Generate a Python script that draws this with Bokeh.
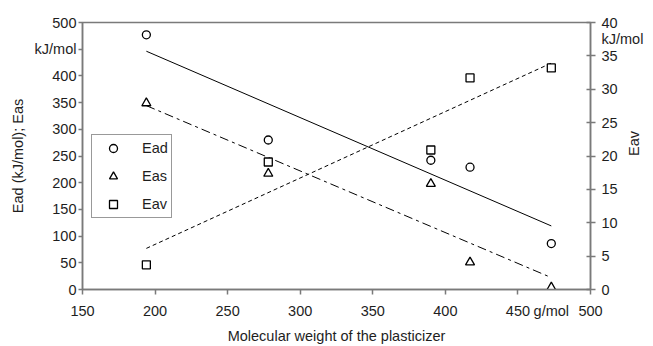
import math
import numpy as np
from bokeh.plotting import figure
from bokeh.models import (Range1d, LinearAxis, FixedTicker, Legend, LegendItem)
from bokeh.embed import file_html
from bokeh.resources import INLINE

# Data
mol_weight = [194, 278, 390, 417, 473]          # g/mol
ead = [477, 280, 242, 229, 86]                  # kJ/mol (left axis)
eas = [349, 217, 198, 51, 4]                    # kJ/mol (left axis)
eav = [3.7, 19.1, 20.9, 31.7, 33.2]             # kJ/mol (right axis)

x_ticks = [150, 200, 250, 300, 350, 400, 450, 500]
x_unit_pos = 473          # where the "g/mol" unit text sits
y_ticks = [0, 50, 100, 150, 200, 250, 300, 350, 400, 450, 500]
y2_ticks = [0, 5, 10, 15, 20, 25, 30, 35, 40]
y2_unit_pos = 37.5        # where the right "kJ/mol" unit text sits

FONT = "Liberation Sans"
FS = "14.5px"
TXT = "#1e1e1e"
AX = "#7a7a7a"

p = figure(width=653, height=346, output_backend="svg", toolbar_location=None,
           x_range=Range1d(150, 500), y_range=Range1d(0, 500),
           min_border_left=82, min_border_right=61, min_border_top=22, min_border_bottom=57)
p.extra_y_ranges = {"eav": Range1d(0, 40)}
p.xgrid.visible = False
p.ygrid.visible = False
p.outline_line_color = AX
p.outline_line_width = 1.5
p.background_fill_color = "white"
p.border_fill_color = "white"

# fitted trend lines
xs = np.array(mol_weight, dtype=float)
line_x = np.array([mol_weight[0], mol_weight[-1]], dtype=float)
def fit(y):
    k, b = np.polyfit(xs, np.array(y, dtype=float), 1)
    return k * line_x + b

p.line(line_x, fit(ead), line_color="black", line_width=1)
p.line(line_x, fit(eas), line_color="black", line_width=1, line_dash="9 4 3 4")
p.line(line_x, fit(eav), line_color="black", line_width=1, line_dash="4 3", y_range_name="eav")

r_ead = p.scatter(mol_weight, ead, marker="circle", size=8, fill_color="white",
                  line_color="black", line_width=1.3)
r_eas = p.scatter(mol_weight, eas, marker="triangle", size=9, fill_color="white",
                  line_color="black", line_width=1.3)
r_eav = p.scatter(mol_weight, eav, marker="square", size=8, fill_color="white",
                  line_color="black", line_width=1.3, y_range_name="eav")

def style_text(ax):
    ax.minor_tick_line_color = None
    ax.major_label_text_font = FONT
    ax.major_label_text_font_size = FS
    ax.major_label_text_color = TXT
    ax.axis_label_text_font = FONT
    ax.axis_label_text_font_size = FS
    ax.axis_label_text_font_style = "normal"
    ax.axis_label_text_color = TXT

def lines_only(ax, ticks, t_in, t_out):
    # axis line and tick marks, no labels
    ax.ticker = FixedTicker(ticks=ticks)
    ax.axis_line_color = AX
    ax.axis_line_width = 1.5
    ax.major_tick_line_color = AX
    ax.major_tick_line_width = 1.5
    ax.minor_tick_line_color = None
    ax.major_tick_in = t_in
    ax.major_tick_out = t_out
    ax.major_label_overrides = {t: "" for t in ticks}
    ax.major_label_text_font_size = "0px"
    ax.major_label_standoff = 0

def labels_only(ax, ticks, overrides, standoff):
    # tick labels without line or marks
    ax.ticker = FixedTicker(ticks=ticks)
    ax.axis_line_color = None
    ax.major_tick_line_color = None
    ax.major_tick_in = 0
    ax.major_tick_out = 0
    ax.major_label_overrides = overrides
    ax.major_label_standoff = standoff
    style_text(ax)

# bottom: line + marks, then labels (incl. unit) + title
xa = p.xaxis[0]
lines_only(xa, x_ticks, 0, 5)
xb = LinearAxis()
labels_only(xb, x_ticks + [x_unit_pos], {x_unit_pos: "g/mol"}, 8)
xb.axis_label = "Molecular weight of the plasticizer"
xb.axis_label_standoff = 6
p.add_layout(xb, "below")

# left axis
ya = p.yaxis[0]
style_text(ya)
ya.ticker = FixedTicker(ticks=y_ticks)
ya.major_label_overrides = {450: "kJ/mol"}
ya.axis_line_color = AX
ya.axis_line_width = 1.5
ya.major_tick_line_color = AX
ya.major_tick_line_width = 1.5
ya.major_tick_in = 0
ya.major_tick_out = 4
ya.major_label_standoff = 2
ya.axis_label = "Ead (kJ/mol); Eas"
ya.axis_label_standoff = 6

# right axis: line + marks, then labels (incl. unit) + title
ra = LinearAxis(y_range_name="eav")
lines_only(ra, y2_ticks, 4, 5)
p.add_layout(ra, "right")
rb = LinearAxis(y_range_name="eav")
labels_only(rb, y2_ticks + [y2_unit_pos], {y2_unit_pos: "kJ/mol"}, 6)
rb.axis_label = "Eav"
rb.axis_label_standoff = -12
rb.axis_label_orientation = math.pi / 2
p.add_layout(rb, "right")

legend = Legend(items=[LegendItem(label="Ead", renderers=[r_ead]),
                       LegendItem(label="Eas", renderers=[r_eas]),
                       LegendItem(label="Eav", renderers=[r_eav])],
                location=(9, 71), padding=3, spacing=8, glyph_width=36, glyph_height=20,
                label_height=20, label_standoff=11, margin=0,
                border_line_color="#333333", border_line_width=1.2,
                label_text_font=FONT, label_text_font_size=FS, label_text_color=TXT,
                background_fill_alpha=1)
p.add_layout(legend, "center")

open("out.html", "w").write(file_html(p, INLINE))
